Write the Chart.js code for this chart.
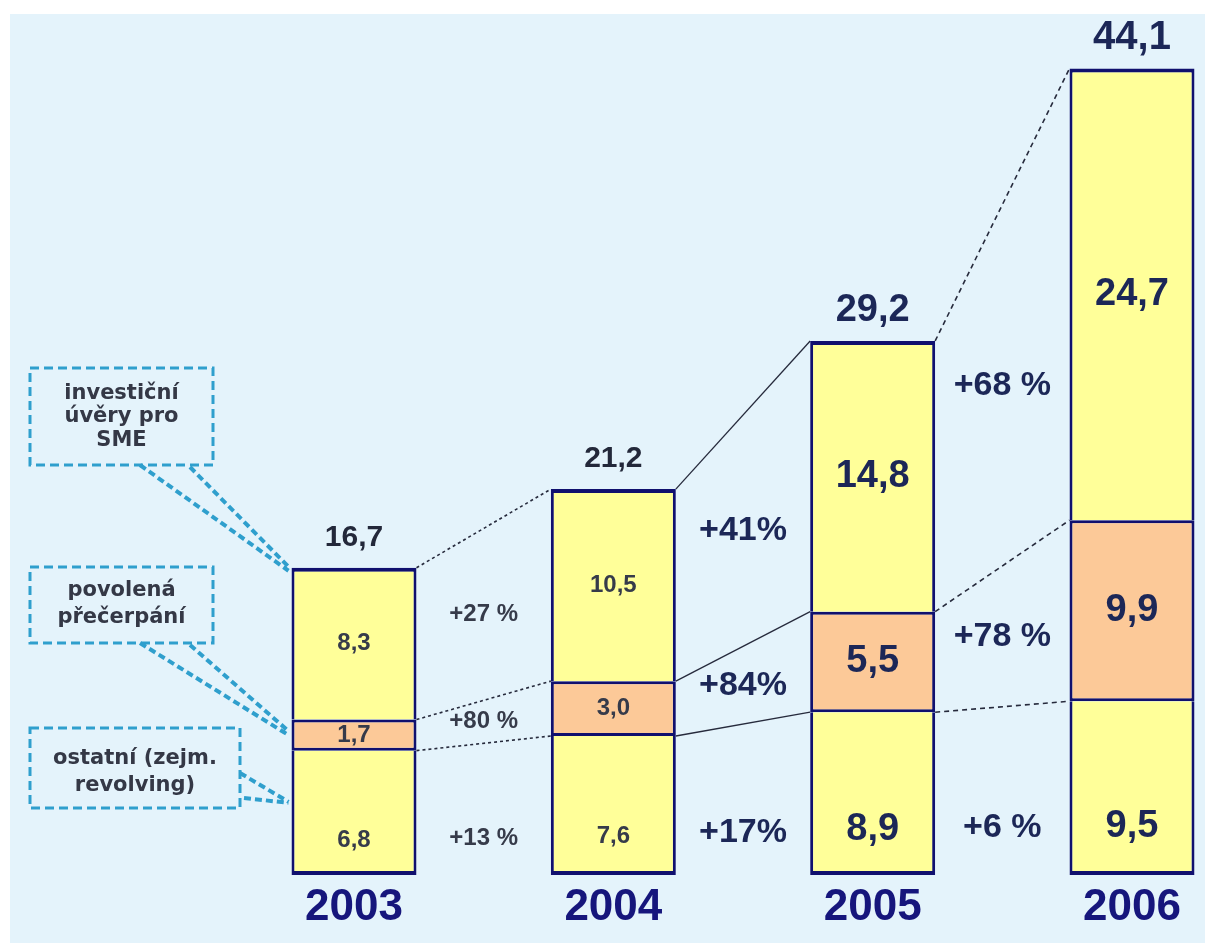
<!DOCTYPE html>
<html>
<head>
<meta charset="utf-8">
<script src="https://cdn.jsdelivr.net/npm/chart.js@4.4.0/dist/chart.umd.min.js"></script>
<style>
  html, body { margin: 0; padding: 0; background: #fff; }
  #wrap { width: 1205px; height: 943px; }
</style>
</head>
<body>
<div id="wrap"><canvas id="chart" width="1205" height="943"></canvas></div>
<script>
const years = ["2003", "2004", "2005", "2006"];
const ostatni = [6.8, 7.6, 8.9, 9.5];
const povolena = [1.7, 3.0, 5.5, 9.9];
const investicni = [8.3, 10.5, 14.8, 24.7];
const totals = ["16,7", "21,2", "29,2", "44,1"];
const growthTop = ["+27 %", "+41%", "+68 %"];
const growthMid = ["+80 %", "+84%", "+78 %"];
const growthBot = ["+13 %", "+17%", "+6 %"];
const calloutTexts = [["investiční", "úvěry pro", "SME"], ["povolená", "přečerpání"], ["ostatní (zejm.", "revolving)"]];

const FONT = '"Liberation Sans", Arial, sans-serif';
const NAVY = "#10106e";
const YELLOW = "#ffff99";
const PEACH = "#fcc998";
const SMALL_TXT = "#363b4a";
const BIG_TXT = "#1c2757";
const CALLOUT = "#2f9fcd";

const valueFont = [24, 24, 38, 38];
const totalFont = [30, 30, 38, 40];
const growthFont = [24, 34, 34];

const fmt = (v) => v.toFixed(1).replace(".", ",");

function text(ctx, str, x, y, size, color, family) {
  ctx.font = `bold ${size}px ${family || FONT}`;
  ctx.fillStyle = color;
  ctx.textAlign = "center";
  ctx.textBaseline = "middle";
  ctx.fillText(str, x, y);
}

const deco = {
  id: "deco",
  beforeDraw(chart) {
    const ctx = chart.ctx;
    ctx.save();
    ctx.fillStyle = "#ffffff";
    ctx.fillRect(0, 0, chart.width, chart.height);
    ctx.fillStyle = "#e4f3fb";
    ctx.fillRect(10, 14, chart.width - 10, chart.height - 14);
    ctx.restore();
  },
  beforeDatasetsDraw(chart) {
    const ctx = chart.ctx;
    const bar = (d, i) => chart.getDatasetMeta(d).data[i];
    ctx.save();
    for (let i = 0; i < years.length - 1; i++) {
      ctx.strokeStyle = "#262a3c";
      if (i === 1) { ctx.setLineDash([]); ctx.lineWidth = 1.3; }
      else if (i === 0) { ctx.setLineDash([3, 3]); ctx.lineWidth = 1.6; }
      else { ctx.setLineDash([5, 4]); ctx.lineWidth = 1.6; }
      for (let d = 0; d < 3; d++) {
        const a = bar(d, i), b = bar(d, i + 1);
        ctx.beginPath();
        ctx.moveTo(a.x + a.width / 2, a.y);
        ctx.lineTo(b.x - b.width / 2, b.y);
        ctx.stroke();
      }
    }
    ctx.restore();
  },
  afterDatasetsDraw(chart) {
    const ctx = chart.ctx;
    const yScale = chart.scales.y;
    const bar = (d, i) => chart.getDatasetMeta(d).data[i];
    const series = [ostatni, povolena, investicni];
    ctx.save();

    // values inside segments, totals and years
    const botLabelY = [];
    years.forEach((yr, i) => {
      const size = valueFont[i];
      const color = i < 2 ? SMALL_TXT : BIG_TXT;
      for (let d = 0; d < 3; d++) {
        const b = bar(d, i);
        let y = (b.y + b.base) / 2;
        if (d === 0) { y = b.base - (b.base - b.y) * 0.28; botLabelY.push(y); }
        text(ctx, fmt(series[d][i]), b.x, y, size, color);
      }
      const top = bar(2, i);
      text(ctx, totals[i], top.x, top.y - 30, totalFont[i], i < 2 ? "#23283a" : BIG_TXT);
      text(ctx, yr, top.x, 908, 44, "#16167c");
    });

    // growth labels between bars
    for (let i = 0; i < years.length - 1; i++) {
      const a2 = bar(2, i), b2 = bar(2, i + 1);
      const a1 = bar(1, i), b1 = bar(1, i + 1);
      const a0 = bar(0, i), b0 = bar(0, i + 1);
      const x = ((a2.x + a2.width / 2) + (b2.x - b2.width / 2)) / 2;
      const topMid = (a2.y + b2.y) / 2;
      const midMid = (a1.y + b1.y) / 2;
      const botMid = (a0.y + b0.y) / 2;
      const color = i === 0 ? SMALL_TXT : BIG_TXT;
      text(ctx, growthTop[i], x, (topMid + midMid) / 2, growthFont[i], color);
      text(ctx, growthMid[i], x, (midMid + botMid) / 2, growthFont[i], color);
      text(ctx, growthBot[i], x, (botLabelY[i] + botLabelY[i + 1]) / 2, growthFont[i], color);
    }

    // callouts pointing at the 2003 bar
    const first = bar(0, 0);
    const leftX = first.x - first.width / 2 - 3;
    const targets = [
      bar(2, 0).y + 3,
      (bar(1, 0).y + bar(1, 0).base) / 2,
      yScale.getPixelForValue(4.0)
    ];
    const boxes = [
      { x: 30, y: 368, w: 183, h: 97, lines: [394, 417, 441] },
      { x: 30, y: 567, w: 183, h: 76, lines: [591, 618] },
      { x: 30, y: 728, w: 210, h: 80, lines: [759, 786] }
    ];
    boxes.forEach((bx, k) => {
      ctx.strokeStyle = CALLOUT;
      ctx.lineWidth = 3;
      ctx.setLineDash([9, 5]);
      ctx.strokeRect(bx.x, bx.y, bx.w, bx.h);
      ctx.lineWidth = 4;
      ctx.setLineDash([7, 4]);
      ctx.beginPath();
      if (k < 2) {
        ctx.moveTo(bx.x + 110, bx.y + bx.h);
        ctx.lineTo(leftX, targets[k]);
        ctx.moveTo(bx.x + 160, bx.y + bx.h + 2);
        ctx.lineTo(leftX, targets[k] - 4);
      } else {
        ctx.moveTo(bx.x + bx.w, bx.y + 45);
        ctx.lineTo(leftX, targets[k]);
        ctx.moveTo(bx.x + bx.w + 4, bx.y + 70);
        ctx.lineTo(leftX, targets[k] + 1);
      }
      ctx.stroke();
      calloutTexts[k].forEach((t, j) => {
        text(ctx, t, bx.x + bx.w / 2, bx.lines[j], 21, "#343846", '"DejaVu Sans", sans-serif');
      });
    });
    ctx.restore();
  }
};

new Chart(document.getElementById("chart"), {
  type: "bar",
  data: {
    labels: years,
    datasets: [
      { label: "ostatní (zejm. revolving)", data: ostatni, backgroundColor: YELLOW, borderColor: NAVY,
        borderWidth: { top: 0, right: 3, bottom: 4, left: 3 } },
      { label: "povolená přečerpání", data: povolena, backgroundColor: PEACH, borderColor: NAVY,
        borderWidth: { top: 3, right: 3, bottom: 3, left: 3 } },
      { label: "investiční úvěry pro SME", data: investicni, backgroundColor: YELLOW, borderColor: NAVY,
        borderWidth: { top: 4, right: 3, bottom: 0, left: 3 } }
    ]
  },
  options: {
    responsive: false,
    animation: false,
    devicePixelRatio: 1,
    layout: { padding: { left: 354, right: 73, top: 52, bottom: 68 } },
    datasets: { bar: { barThickness: 125, borderSkipped: false, inflateAmount: 0, clip: false } },
    plugins: { legend: { display: false }, tooltip: { enabled: false } },
    scales: {
      x: { stacked: true, offset: false, display: false },
      y: { stacked: true, min: 0, max: 45, display: false }
    }
  },
  plugins: [deco]
});
</script>
</body>
</html>
